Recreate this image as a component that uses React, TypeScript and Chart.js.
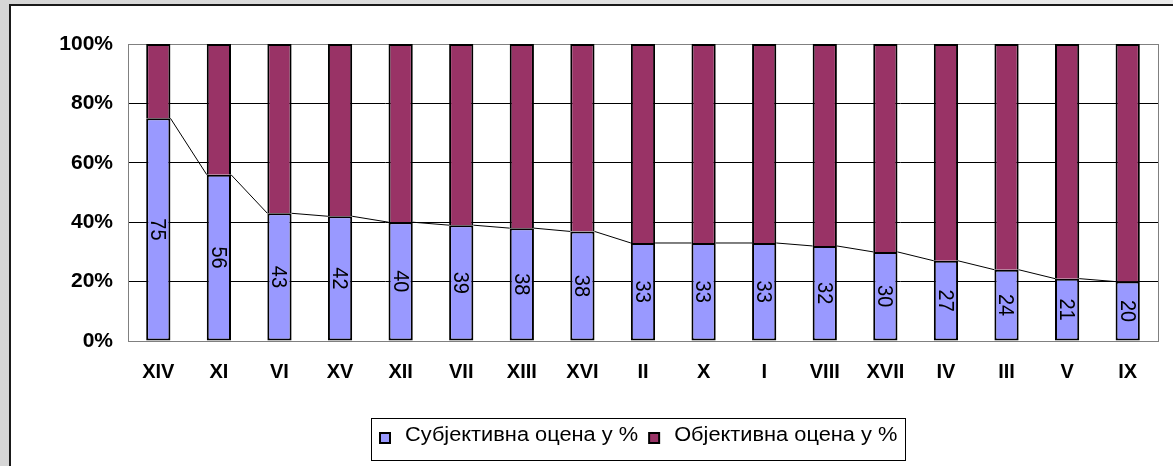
import React, { useEffect, useRef } from "react";
import { Chart, registerables } from "chart.js";

Chart.register(...registerables);

const categories = ["XIV", "XI", "VI", "XV", "XII", "VII", "XIII", "XVI", "II", "X", "I", "VIII", "XVII", "IV", "III", "V", "IX"];
const subjective = [75, 56, 43, 42, 40, 39, 38, 38, 33, 33, 33, 32, 30, 27, 24, 21, 20];
const objective = [25, 44, 57, 58, 60, 61, 62, 65, 67, 67, 67, 68, 70, 73, 76, 79, 80];
const yTickLabels = ["0%", "20%", "40%", "60%", "80%", "100%"];
const seriesNames = ["Субјективна оцена у %", "Објективна оцена у %"];

const FONT = "'Liberation Sans', Arial, sans-serif";
const COLOR_SUBJ = "#9999FF";
const COLOR_OBJ = "#993366";
const STRETCH = 1.09;

const subjPct = subjective.map((s, i) => (s / (s + objective[i])) * 100);
const objPct = objective.map((o, i) => (o / (subjective[i] + o)) * 100);

const framePlugin = {
  id: "frame",
  beforeDatasetsDraw(chart: any) {
    const { ctx, chartArea } = chart;
    ctx.save();
    ctx.strokeStyle = "#808080";
    ctx.lineWidth = 1;
    const l = Math.round(chartArea.left) + 0.5;
    const t = Math.round(chartArea.top) + 0.5;
    const r = Math.round(chartArea.right) + 0.5;
    const b = Math.round(chartArea.bottom) + 0.5;
    ctx.strokeRect(l, t, r - l, b - t);
    ctx.restore();
  },
};

const seriesLinePlugin = {
  id: "seriesLines",
  afterDatasetsDraw(chart: any) {
    const { ctx } = chart;
    const meta = chart.getDatasetMeta(0);
    ctx.save();
    ctx.strokeStyle = "#000";
    ctx.lineWidth = 1;
    for (let i = 0; i < meta.data.length - 1; i++) {
      const a = meta.data[i] as any;
      const b = meta.data[i + 1] as any;
      ctx.beginPath();
      ctx.moveTo(a.x + a.width / 2, a.y);
      ctx.lineTo(b.x - b.width / 2, b.y);
      ctx.stroke();
    }
    // data labels, rotated clockwise
    ctx.fillStyle = "#000";
    ctx.font = `20px ${FONT}`;
    ctx.textAlign = "center";
    ctx.textBaseline = "middle";
    meta.data.forEach((el: any, i: number) => {
      const cy = (el.y + el.base) / 2;
      ctx.save();
      ctx.translate(el.x, cy);
      ctx.scale(STRETCH, 1);
      ctx.rotate(Math.PI / 2);
      ctx.fillText(String(subjective[i]), 0, 1);
      ctx.restore();
    });
    ctx.restore();
  },
};

const legendPlugin = {
  id: "boxLegend",
  afterDraw(chart: any) {
    const { ctx, chartArea } = chart;
    const datasets = chart.data.datasets;
    ctx.save();
    ctx.font = `20px ${FONT}`;
    ctx.textBaseline = "middle";
    ctx.textAlign = "left";
    const box = 12;
    const gapText = 14;
    const gapItem = 10;
    const widths = datasets.map((d: any) => ctx.measureText(d.label).width * STRETCH);
    let content = 0;
    widths.forEach((w: number, i: number) => {
      content += box + gapText + w + (i < widths.length - 1 ? gapItem : 0);
    });
    const padL = 8;
    const padR = 8;
    const bw = content + padL + padR;
    const center = (chartArea.left + chartArea.right) / 2 - 5;
    const bl = Math.round(center - bw / 2);
    const top = Math.round(chartArea.bottom + 77);
    const bh = 42;
    ctx.strokeStyle = "#000";
    ctx.lineWidth = 1;
    ctx.strokeRect(bl + 0.5, top + 0.5, Math.round(bw), bh);
    const cy = top + 20;
    let x = bl + padL;
    datasets.forEach((d: any, i: number) => {
      ctx.fillStyle = "#000";
      ctx.fillRect(x, cy - 6, box, box);
      ctx.fillStyle = d.backgroundColor;
      ctx.fillRect(x + 2, cy - 4, box - 4, box - 4);
      x += box + gapText;
      ctx.fillStyle = "#000";
      ctx.save();
      ctx.translate(x, cy - 3);
      ctx.scale(STRETCH, 1);
      ctx.fillText(d.label, 0, 0);
      ctx.restore();
      x += widths[i] + gapItem;
    });
    ctx.restore();
  },
};

export default function App() {
  const ref = useRef<HTMLCanvasElement | null>(null);

  useEffect(() => {
    if (!ref.current) return;
    const chart = new Chart(ref.current, {
      type: "bar",
      data: {
        labels: categories,
        datasets: [
          {
            label: seriesNames[0],
            data: subjPct,
            backgroundColor: COLOR_SUBJ,
            borderColor: "#000",
            borderWidth: 2,
            borderSkipped: false,
            barPercentage: 0.4,
            categoryPercentage: 1,
          },
          {
            label: seriesNames[1],
            data: objPct,
            backgroundColor: COLOR_OBJ,
            borderColor: "#000",
            borderWidth: 2,
            borderSkipped: "start",
            barPercentage: 0.4,
            categoryPercentage: 1,
          },
        ],
      },
      options: {
        responsive: false,
        animation: false,
        devicePixelRatio: 1,
        layout: { padding: { left: 58, right: 15, top: 44, bottom: 8 } },
        plugins: {
          tooltip: { enabled: false },
          legend: { display: false },
        },
        scales: {
          x: {
            stacked: true,
            grid: { display: false, drawTicks: false },
            border: { display: false },
            ticks: {
              color: "#000",
              font: { family: FONT, size: 20, weight: "bold" },
              padding: 19,
              maxRotation: 0,
              autoSkip: false,
            },
            afterFit: (s: any) => {
              s.height = 117;
            },
          },
          y: {
            stacked: true,
            min: 0,
            max: 100,
            grid: {
              drawTicks: false,
              color: (c: any) => (c.tick && (c.tick.value === 0 || c.tick.value === 100) ? "#808080" : "#000"),
            },
            border: { display: false },
            ticks: {
              stepSize: 20,
              color: "#000",
              font: { family: FONT, size: 21, weight: "bold" },
              padding: 15,
              callback: (v: any) => yTickLabels[Math.round(Number(v) / 20)],
            },
            afterFit: (s: any) => {
              s.width = 70;
            },
          },
        },
      },
      plugins: [framePlugin, seriesLinePlugin, legendPlugin],
    } as any);
    return () => chart.destroy();
  }, []);

  return (
    <div
      style={{
        position: "fixed",
        left: 0,
        top: 0,
        width: 1173,
        height: 466,
        overflow: "hidden",
        background: "linear-gradient(to right, #d6d6d6, #ebebeb)",
      }}
    >
      <div
        style={{
          position: "absolute",
          left: 9,
          top: 4,
          width: 2000,
          height: 1000,
          background: "#fff",
          border: "2px solid #1a1a1a",
        }}
      />
      <canvas ref={ref} width={1173} height={466} style={{ position: "absolute", left: 0, top: 0, display: "block" }} />
    </div>
  );
}
